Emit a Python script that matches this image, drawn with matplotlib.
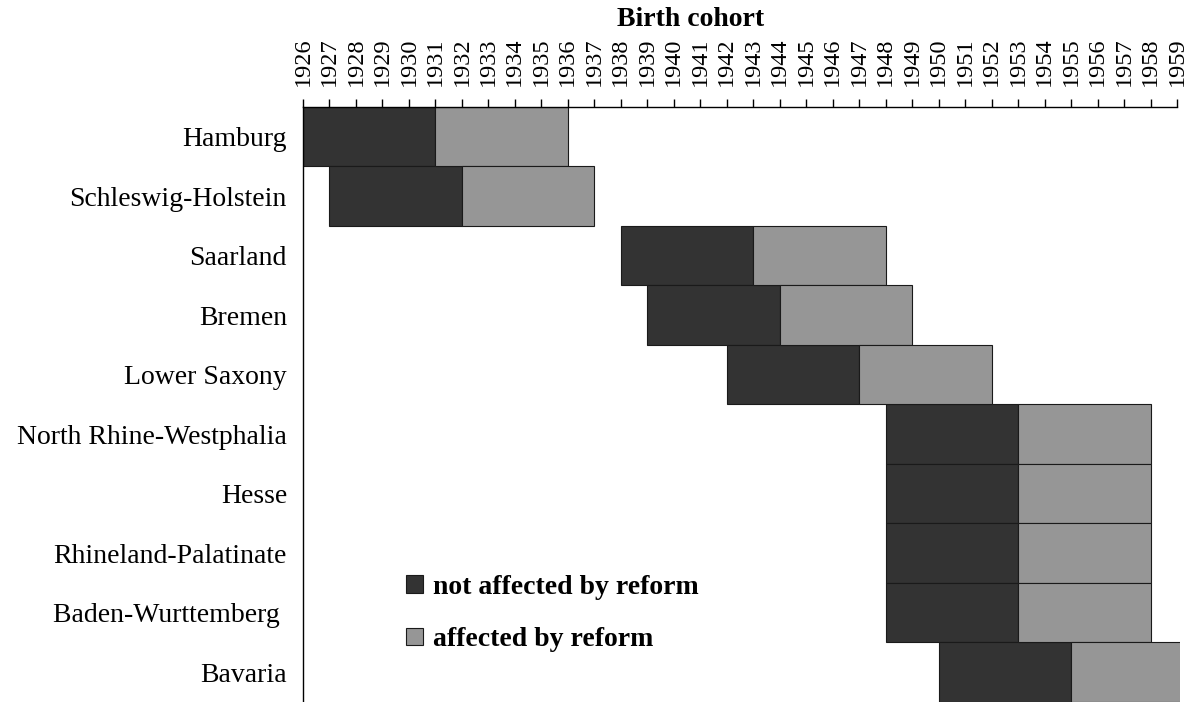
import matplotlib.pyplot as plt
from matplotlib.patches import Patch

# ---------------------------------------------------------
# DATA: birth cohorts per state
# ---------------------------------------------------------

states = [
    "Hamburg",
    "Schleswig-Holstein",
    "Saarland",
    "Bremen",
    "Lower Saxony",
    "North Rhine-Westphalia",
    "Hesse",
    "Rhineland-Palatinate",
    "Baden-Wurttemberg ",
    "Bavaria",
]

first_cohort = [1926, 1927, 1938, 1939, 1942, 1948, 1948, 1948, 1948, 1950]
reform_cohort = [1931, 1932, 1943, 1944, 1947, 1953, 1953, 1953, 1953, 1955]
last_cohort = [1936, 1937, 1948, 1949, 1952, 1958, 1958, 1958, 1958, 1960]

years = list(range(1926, 1960))

dark = "#333333"
light = "#969696"

plt.rcParams["font.family"] = ["Liberation Serif", "DejaVu Serif"]

# ---------------------------------------------------------
# FIGURE
# ---------------------------------------------------------

fig = plt.figure(figsize=(11.96, 7.02), dpi=100)
ax = fig.add_axes([0.2533, 0.0, 0.7333, 0.8476])

rows = list(range(len(states)))
not_aff = [r - f for f, r in zip(first_cohort, reform_cohort)]
aff = [l - r for r, l in zip(reform_cohort, last_cohort)]

ax.barh(rows, not_aff, left=first_cohort, height=1.0,
        color=dark, edgecolor="#1a1a1a", linewidth=0.8,
        label="not affected by reform")
ax.barh(rows, aff, left=reform_cohort, height=1.0,
        color=light, edgecolor="#1a1a1a", linewidth=0.8,
        label="affected by reform")

# ---------------------------------------------------------
# AXES
# ---------------------------------------------------------

ax.set_xlim(1926, 1959.11)
ax.set_ylim(9.5, -0.5)

ax.xaxis.tick_top()
ax.set_xticks(years)
ax.set_xticklabels([str(y) for y in years], rotation=90, fontsize=17.5)
ax.tick_params(axis="x", direction="out", length=6, width=1, pad=9,
               colors="black")

ax.set_yticks(rows)
ax.set_yticklabels(states, fontsize=20)
ax.tick_params(axis="y", length=0, pad=11.5)

ax.spines["right"].set_visible(False)
ax.spines["bottom"].set_visible(False)
ax.spines["top"].set_bounds(1926, 1959)
ax.spines["top"].set_linewidth(1)
ax.spines["left"].set_linewidth(1)

fig.text(691 / 1196, 1 - 19 / 702, "Birth cohort", ha="center",
         va="center", fontsize=20, fontweight="bold")

# ---------------------------------------------------------
# LEGEND
# ---------------------------------------------------------

handles = [
    Patch(facecolor=dark, edgecolor="#1a1a1a", linewidth=0.8),
    Patch(facecolor=light, edgecolor="#1a1a1a", linewidth=0.8),
]
ax.legend(handles, ["not affected by reform", "affected by reform"],
          loc="upper left", bbox_to_anchor=(0.118, 0.214),
          frameon=False, borderpad=0, borderaxespad=0,
          handlelength=0.58, handleheight=0.58, handletextpad=0.38,
          labelspacing=1.0, prop={"size": 20, "weight": "bold"})

fig.savefig("out.png", dpi=100)
